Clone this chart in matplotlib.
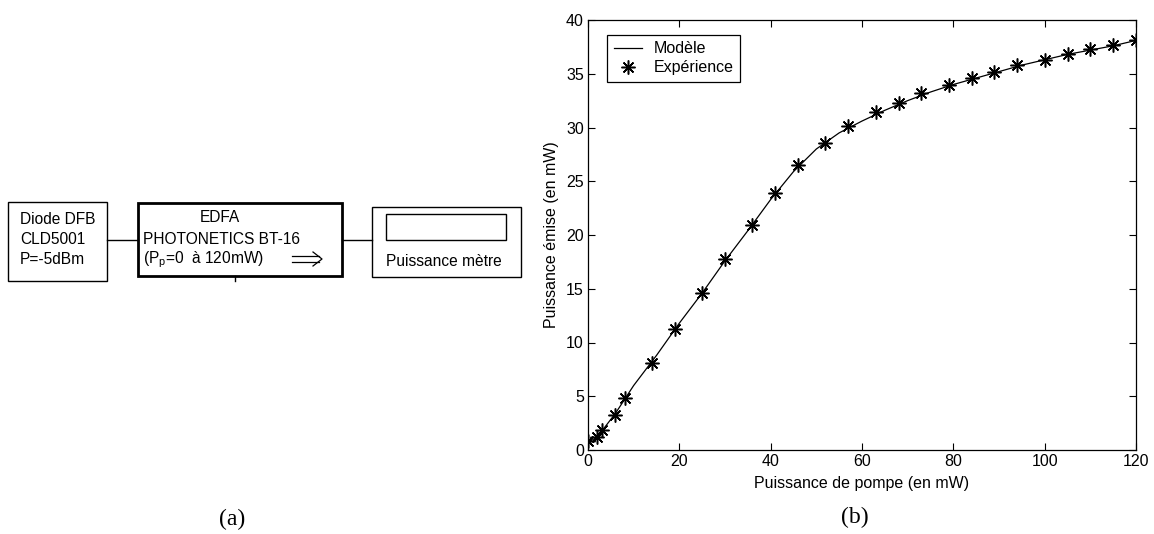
import matplotlib
matplotlib.use("Agg")
import matplotlib.pyplot as plt
from matplotlib.patches import Rectangle

plt.rcParams['font.family'] = ['Liberation Sans', 'DejaVu Sans']

# Mesures (puissance de pompe en mW, puissance émise en mW)
pompe_exp = [0, 2, 3, 6, 8, 14, 19, 25, 30, 36, 41, 46, 52, 57, 63, 68, 73, 79, 84, 89, 94, 100, 105, 110, 115, 120]
sortie_exp = [0.85, 1.2, 1.9, 3.3, 4.85, 8.1, 11.3, 14.6, 17.8, 20.9, 23.9, 26.5, 28.6, 30.1, 31.4, 32.3, 33.2, 34.0, 34.6, 35.2, 35.8, 36.3, 36.8, 37.3, 37.7, 38.1]

# Modèle
pompe_mod = [0, 2, 4, 6, 8, 10, 15, 20, 25, 30, 35, 40, 45, 50, 55, 60, 65, 70, 75, 80, 85, 90, 95, 100, 105, 110, 115, 120]
sortie_mod = [0.7, 1.2, 2.3, 3.4, 4.7, 6.0, 8.8, 11.8, 14.6, 17.6, 20.4, 23.3, 25.9, 28.0, 29.5, 30.6, 31.6, 32.5, 33.3, 34.0, 34.6, 35.2, 35.8, 36.3, 36.8, 37.2, 37.6, 38.1]

xticks = [0, 20, 40, 60, 80, 100, 120]
yticks = [0, 5, 10, 15, 20, 25, 30, 35, 40]

W, H = 1154, 534
fig = plt.figure(figsize=(W / 100, H / 100), dpi=100)

# ---- (a) schéma du montage, en pixels ----
sch = fig.add_axes([0, 0, 1, 1])
sch.set_xlim(0, W)
sch.set_ylim(H, 0)
sch.axis('off')

sch.add_patch(Rectangle((8, 202), 99, 79, fill=False, lw=1, ec='black'))
sch.add_patch(Rectangle((138, 203), 204, 73, fill=False, lw=2, ec='black'))
sch.add_patch(Rectangle((372, 207), 149, 70, fill=False, lw=1, ec='black'))
sch.add_patch(Rectangle((386, 214), 120, 26, fill=False, lw=1, ec='black'))
sch.plot([107, 138], [240, 240], color='black', lw=1)
sch.plot([342, 372], [240, 240], color='black', lw=1)
sch.plot([235, 235], [276, 281], color='black', lw=1)

# flèche double
sch.plot([292, 319], [256, 256], color='black', lw=0.9)
sch.plot([292, 319], [262, 262], color='black', lw=0.9)
sch.plot([313, 322, 313], [252, 259, 266], color='black', lw=0.9)

fs = 11.2
sch.text(20, 219, 'Diode DFB', fontsize=fs, va='center')
sch.text(20, 239, 'CLD5001', fontsize=fs, va='center')
sch.text(20, 259, 'P=-5dBm', fontsize=fs, va='center')
sch.text(220, 218, 'EDFA', fontsize=fs, va='center', ha='center')
sch.text(143, 239, 'PHOTONETICS BT-16', fontsize=fs, va='center')
sch.text(143, 260, r'(P$_\mathregular{p}$=0  à 120mW)', fontsize=fs, va='center')
sch.text(386, 261, 'Puissance mètre', fontsize=fs, va='center')

sch.text(232, 519, '(a)', fontsize=17, family='Liberation Serif', ha='center', va='center')
sch.text(855, 517, '(b)', fontsize=17, family='Liberation Serif', ha='center', va='center')

# ---- (b) courbe ----
ax = fig.add_axes([588 / W, 1 - 450 / H, 548 / W, 430 / H])
ax.plot(pompe_mod, sortie_mod, color='black', lw=0.9, label='Modèle')
ax.plot(pompe_exp, sortie_exp, ls='none', marker=(8, 2, 0), ms=10, mew=1.1,
        color='black', label='Expérience')
ax.set_xlim(0, 120)
ax.set_ylim(0, 40)
ax.set_xticks(xticks)
ax.set_yticks(yticks)
ax.tick_params(direction='in', top=True, right=True, labelsize=11.5, length=5, width=0.8, pad=3)
ax.set_xlabel('Puissance de pompe (en mW)', fontsize=11.5, labelpad=5)
ax.set_ylabel('Puissance émise (en mW)', fontsize=11.5, labelpad=5)
for s in ax.spines.values():
    s.set_linewidth(0.9)

leg = ax.legend(loc='upper left', bbox_to_anchor=(0.035, 0.965), borderaxespad=0,
                fontsize=11.5, fancybox=False, framealpha=1, edgecolor='black',
                handlelength=1.8, handletextpad=0.7, borderpad=0.4, labelspacing=0.25)
leg.get_frame().set_linewidth(0.9)

fig.savefig('out.png', dpi=100)
